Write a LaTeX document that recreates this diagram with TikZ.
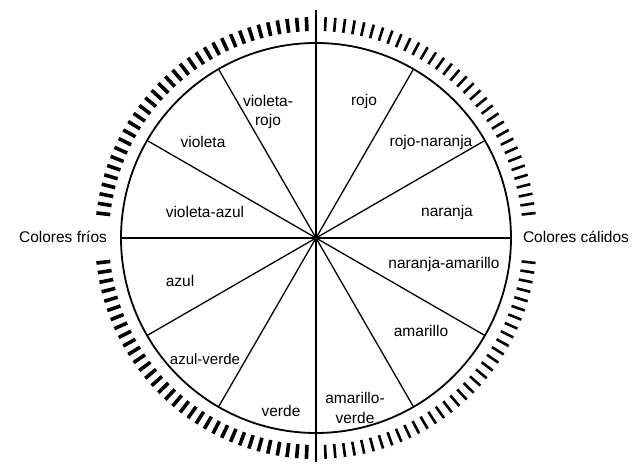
\documentclass[tikz,border=0pt]{standalone}
\usepackage{fontspec}
\setmainfont{Liberation Sans}
\begin{document}
\begin{tikzpicture}[x=1pt,y=1pt,
  lbl/.style={font=\fontsize{15.5}{19.5}\selectfont, inner sep=0pt, align=center},
  rim/.style={line width=1.8pt},
  spoke/.style={line width=1.3pt},
  axis/.style={line width=2.2pt},
  coldtick/.style={line width=3.6pt},
  warmtick/.style={line width=2.6pt}]
\useasboundingbox (0,0) rectangle (632,465);
\coordinate (c) at (316,227);
\draw[rim] (c) circle[radius=195pt];
\foreach \a in {30,60,120,150,210,240,300,330}
  \draw[spoke] (c) -- ++(\a:195pt);
\draw[spoke] (c) ++(-195pt,0) coordinate (hl) -- ++(390pt,0) coordinate (hr);
\coordinate (vt) at (316,455);
\coordinate (vb) at (316,3);
\draw[axis] (vt) -- (vb);
\fill (c) circle[radius=3pt];
\foreach \i in {0,...,32}{
  \pgfmathsetmacro\a{6.5+\i*81/32}
  \draw[coldtick] (c) ++(180-\a:207pt) -- ++(180-\a:14pt);
  \draw[coldtick] (c) ++(180+\a:207pt) -- ++(180+\a:14pt);
  \draw[warmtick] (c) ++(\a:207pt) -- ++(\a:14pt);
  \draw[warmtick] (c) ++(-\a:207pt) -- ++(-\a:14pt);
}
\node[lbl] (vr) at (268,353) {violeta-\\rojo};
\node[lbl] (ro) at (364,364) {rojo};
\node[lbl] (vi) at (203,323) {violeta};
\node[lbl] (rn) at (431,323) {rojo-naranja};
\node[lbl] (va) at (205,253) {violeta-azul};
\node[lbl] (na) at (447,253) {naranja};
\node[lbl] (az) at (180,184) {azul};
\node[lbl] (nam) at (444,201) {naranja-amarillo};
\node[lbl, font=\fontsize{15}{19}\selectfont] (av) at (205,106) {azul-verde};
\node[lbl] (am) at (421,134) {amarillo};
\node[lbl] (ve) at (281,54) {verde};
\node[lbl] (amv) at (355,57) {amarillo-\\verde};
\node[lbl] (cf) at (63,228) {Colores fríos};
\node[lbl] (cc) at (576,228) {Colores cálidos};
\end{tikzpicture}
\end{document}
